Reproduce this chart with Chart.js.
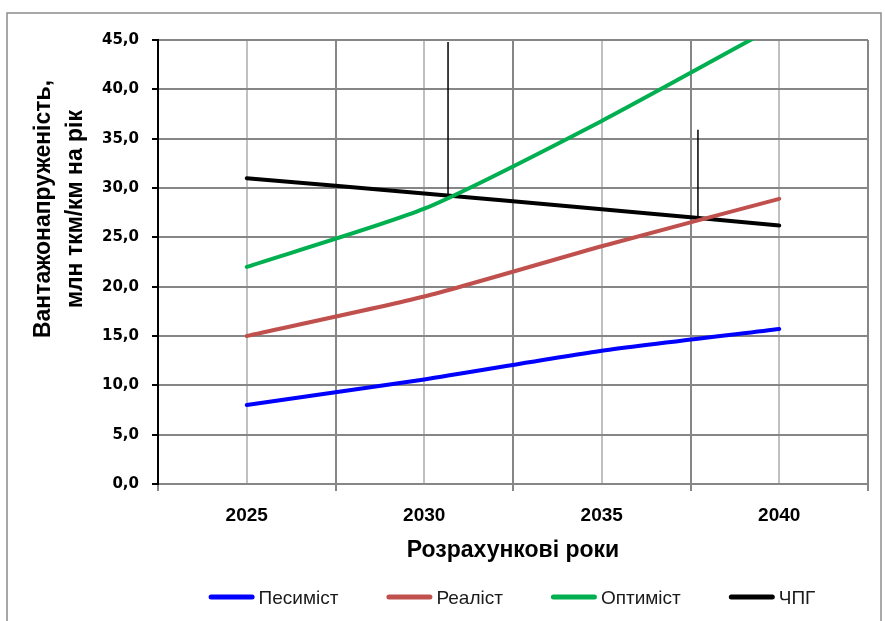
<!DOCTYPE html>
<html><head><meta charset="utf-8">
<script src="https://cdn.jsdelivr.net/npm/chart.js@4/dist/chart.umd.min.js"></script>
<style>html,body{margin:0;padding:0;background:#fff;}#wrap{width:885px;height:621px;position:relative;}</style>
</head><body><div id="wrap"><canvas id="c" width="885" height="621"></canvas></div>
<script>
// ---- data ----
const years = [2025, 2030, 2035, 2040];
const pessimist = [8.0, 10.6, 13.5, 15.7];
const realist = [15.0, 19.0, 24.1, 28.9];
const optimist = [22.0, 27.9, 36.8, 46.6];
const chpg = [31.0, 29.45, 27.85, 26.2];
const seriesNames = ['Песиміст', 'Реаліст', 'Оптиміст', 'ЧПГ'];
const seriesColors = ['#0000FF', '#C0504D', '#00B050', '#000000'];
const marker1X = [2030.67, 2030.67];
const marker1Y = [29.0, 44.8];
const marker2X = [2037.71, 2037.71];
const marker2Y = [26.8, 35.9];
const xTickValues = [2022.5, 2025, 2027.5, 2030, 2032.5, 2035, 2037.5, 2040, 2042.5];
const yTitleLines = ['Вантажонапруженість,', 'млн ткм/км на рік'];
const xTitle = 'Розрахункові роки';

const toPts = (xs, ys) => xs.map((x, i) => ({x: x, y: ys[i]}));
const seriesValues = [pessimist, realist, optimist, chpg];

const datasets = seriesValues.map((vals, i) => ({
  label: seriesNames[i],
  data: toPts(years, vals),
  borderColor: seriesColors[i],
  backgroundColor: seriesColors[i],
  borderWidth: 4,
  pointRadius: 0,
  tension: 0.2,
  borderCapStyle: 'round',
  clip: 0,
  inLegend: true
}));
[[marker1X, marker1Y], [marker2X, marker2Y]].forEach(m => datasets.push({
  label: '',
  data: toPts(m[0], m[1]),
  borderColor: '#000000',
  borderWidth: 1.5,
  pointRadius: 0,
  tension: 0,
  clip: 0,
  inLegend: false
}));

const framePlugin = {
  id: 'frame',
  beforeDraw(chart) {
    const ctx = chart.ctx;
    ctx.save();
    ctx.fillStyle = '#ffffff';
    ctx.fillRect(0, 0, chart.width, chart.height);
    ctx.strokeStyle = '#8c8c8c';
    ctx.lineWidth = 1.5;
    ctx.strokeRect(7, 13, 874, 640);
    ctx.restore();
  }
};

const extrasPlugin = {
  id: 'extras',
  afterDraw(chart) {
    const ctx = chart.ctx;
    ctx.save();
    // y-axis title
    ctx.fillStyle = '#000';
    ctx.font = 'bold 23px "Liberation Sans", Arial, sans-serif';
    ctx.textAlign = 'center';
    ctx.textBaseline = 'middle';
    const xs = [44, 76];
    yTitleLines.forEach((t, i) => {
      ctx.save();
      ctx.translate(xs[i], 209);
      ctx.rotate(-Math.PI / 2);
      ctx.fillText(t, 0, 0);
      ctx.restore();
    });
    // legend
    ctx.font = '19px "Liberation Sans", Arial, sans-serif';
    ctx.textAlign = 'left';
    ctx.textBaseline = 'alphabetic';
    const items = chart.data.datasets.filter(d => d.inLegend);
    const lineW = 46, gap = 4, itemGap = 48;
    const widths = items.map(d => lineW + gap + ctx.measureText(d.label).width);
    const total = widths.reduce((a, b) => a + b, 0) + itemGap * (items.length - 1);
    let x = 512 - total / 2;
    const ly = 597, baseY = 604;
    items.forEach((d, i) => {
      ctx.strokeStyle = d.borderColor;
      ctx.lineWidth = 5;
      ctx.lineCap = 'round';
      ctx.beginPath();
      ctx.moveTo(x + 2.5, ly);
      ctx.lineTo(x + lineW - 2.5, ly);
      ctx.stroke();
      ctx.fillStyle = '#1a1a1a';
      ctx.fillText(d.label, x + lineW + gap, baseY);
      x += widths[i] + itemGap;
    });
    ctx.restore();
  }
};

new Chart(document.getElementById('c'), {
  type: 'line',
  data: {datasets: datasets},
  options: {
    responsive: false,
    animation: false,
    devicePixelRatio: 1,
    layout: {padding: {top: 40, right: 17, left: 0, bottom: 0}},
    plugins: {legend: {display: false}, tooltip: {enabled: false}},
    scales: {
      x: {
        type: 'linear',
        min: 2022.5, max: 2042.5,
        afterBuildTicks: s => { s.ticks = xTickValues.map(v => ({value: v})); },
        afterFit: s => { s.height = 137; },
        ticks: {
          autoSkip: false, maxRotation: 0,
          padding: 13,
          color: '#000',
          font: {family: '"Liberation Sans", Arial, sans-serif', size: 19, weight: 'bold'},
          callback: v => (v % 5 === 0 ? String(v) : '')
        },
        grid: {
          color: c => (c.tick && c.tick.value % 5 === 0 ? '#c0c0c0' : '#868686'),
          tickColor: c => (c.tick && c.tick.value % 5 === 0 ? 'rgba(0,0,0,0)' : '#868686'),
          lineWidth: 2,
          tickLength: 7
        },
        border: {color: '#868686', width: 2},
        title: {
          display: true, text: xTitle, color: '#000',
          font: {family: '"Liberation Sans", Arial, sans-serif', size: 23, weight: 'bold'},
          padding: {top: 0, bottom: 57}
        }
      },
      y: {
        min: 0, max: 45,
        afterFit: s => { s.width = 158; },
        ticks: {
          stepSize: 5,
          padding: 13,
          color: '#000',
          font: {family: '"DejaVu Sans", sans-serif', size: 15, weight: 'bold'},
          callback: v => v.toFixed(1).replace('.', ',')
        },
        grid: {color: '#868686', lineWidth: 2, tickColor: '#000', tickLength: 6},
        border: {color: '#000', width: 2}
      }
    }
  },
  plugins: [framePlugin, extrasPlugin]
});
</script></body></html>
